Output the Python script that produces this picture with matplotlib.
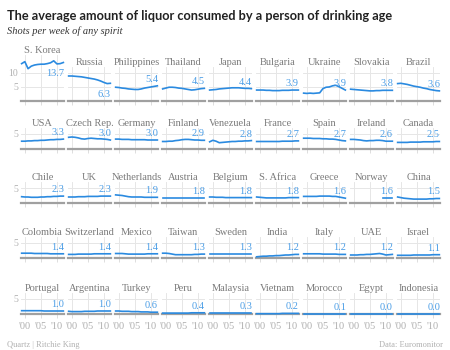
import numpy as np
import matplotlib.pyplot as plt

nan = np.nan
years = np.arange(1999, 2013)

countries = [
    ["S. Korea", "Russia", "Philippines", "Thailand", "Japan", "Bulgaria", "Ukraine", "Slovakia", "Brazil"],
    ["USA", "Czech Rep.", "Germany", "Finland", "Venezuela", "France", "Spain", "Ireland", "Canada"],
    ["Chile", "UK", "Netherlands", "Austria", "Belgium", "S. Africa", "Greece", "Norway", "China"],
    ["Colombia", "Switzerland", "Mexico", "Taiwan", "Sweden", "India", "Italy", "UAE", "Israel"],
    ["Portugal", "Argentina", "Turkey", "Peru", "Malaysia", "Vietnam", "Morocco", "Egypt", "Indonesia"],
]

# shots per week, 1999-2012
shots = {
    "S. Korea": [13.3, 14.0, 11.5, 12.4, 12.8, 13.0, 13.1, 13.1, 13.3, 13.6, 14.3, 13.2, 13.3, 13.7],
    "Russia": [8.9, 8.9, 8.8, 8.7, 8.6, 8.4, 8.2, 8.0, 7.8, 7.5, 7.1, 6.6, 6.2, 6.3],
    "Philippines": [4.9, 4.8, 4.6, 4.5, 4.3, 4.2, 4.1, 4.1, 4.3, 4.6, 4.8, 5.0, 5.2, 5.4],
    "Thailand": [4.3, 4.6, 4.9, 4.9, 4.8, 4.6, 4.5, 4.3, 4.1, 3.9, 4.0, 4.2, 4.4, 4.5],
    "Japan": [3.9, 4.0, 4.1, 4.3, 4.4, 4.5, 4.6, 4.7, 4.7, 4.7, 4.6, 4.5, 4.5, 4.4],
    "Bulgaria": [3.9, 3.9, 3.9, 3.8, 3.8, 3.7, 3.7, 3.7, 3.8, 3.8, 3.8, 3.9, 3.9, 3.9],
    "Ukraine": [2.8, 2.7, 2.8, 2.7, 2.8, 2.9, 4.4, 4.9, 5.0, 5.4, 5.6, 5.1, 4.5, 3.9],
    "Slovakia": [4.2, 4.1, 4.0, 3.9, 3.8, 3.7, 3.6, 3.6, 3.7, 3.7, 3.8, 3.8, 3.8, 3.8],
    "Brazil": [6.2, 6.3, 6.1, 5.9, 5.6, 5.3, 5.1, 4.9, 4.6, 4.4, 4.1, 3.9, 3.7, 3.6],
    "USA": [2.6, 2.6, 2.7, 2.7, 2.8, 2.8, 2.9, 2.9, 3.0, 3.1, 3.1, 3.2, 3.2, 3.3],
    "Czech Rep.": [3.9, 4.0, 3.9, 3.7, 3.4, 3.3, 3.5, 3.6, 3.5, 3.4, 3.4, 3.3, 3.2, 3.0],
    "Germany": [3.3, 3.3, 3.2, 3.2, 3.2, 3.1, 3.1, 3.1, 3.1, 3.1, 3.0, 3.0, 3.0, 3.0],
    "Finland": [2.5, 2.5, 2.6, 2.6, 2.8, 2.9, 3.1, 3.2, 3.2, 3.1, 3.0, 3.0, 2.9, 2.9],
    "Venezuela": [2.4, 2.9, 2.6, 2.1, 2.2, 2.3, 2.4, 2.5, 2.5, 2.6, 2.6, 2.7, 2.7, 2.8],
    "France": [2.5, 2.5, 2.5, 2.5, 2.5, 2.5, 2.5, 2.5, 2.6, 2.6, 2.6, 2.6, 2.7, 2.7],
    "Spain": [3.6, 3.6, 3.6, 3.5, 3.5, 3.5, 3.4, 3.4, 3.3, 3.3, 3.2, 3.0, 2.8, 2.7],
    "Ireland": [3.2, 3.2, 3.1, 3.0, 2.8, 2.7, 2.8, 2.8, 2.9, 2.9, 2.8, 2.6, 2.6, 2.6],
    "Canada": [2.2, 2.2, 2.2, 2.2, 2.3, 2.3, 2.3, 2.3, 2.4, 2.4, 2.4, 2.4, 2.5, 2.5],
    "Chile": [2.1, 2.0, 2.0, 1.9, 1.9, 1.9, 2.0, 2.0, 2.1, 2.1, 2.2, 2.2, 2.3, 2.3],
    "UK": [2.0, 2.0, 2.0, 2.1, 2.1, 2.1, 2.2, 2.2, 2.2, 2.2, 2.3, 2.3, 2.3, 2.3],
    "Netherlands": [2.7, 2.6, 2.5, 2.3, 2.1, 2.0, 2.0, 2.0, 2.0, 1.9, 1.9, 1.9, 1.9, 1.9],
    "Austria": [1.8, 1.8, 1.8, 1.8, 1.8, 1.8, 1.8, 1.8, 1.8, 1.8, 1.8, 1.8, 1.8, 1.8],
    "Belgium": [2.0, 2.0, 1.9, 1.9, 1.9, 1.8, 1.8, 1.8, 1.8, 1.8, 1.8, 1.8, 1.8, 1.8],
    "S. Africa": [2.0, 1.9, 1.8, 1.7, 1.7, 1.7, 1.7, 1.7, 1.7, 1.7, 1.8, 1.8, 1.8, 1.8],
    "Greece": [2.2, 2.2, 2.2, 2.2, 2.2, 2.3, 2.3, 2.3, 2.3, 2.2, 2.2, 2.0, 1.8, 1.6],
    "Norway": [nan, nan, nan, nan, nan, nan, nan, nan, nan, nan, 1.6, 1.6, 1.6, 1.6],
    "China": [2.0, 1.8, 1.6, 1.5, 1.4, 1.3, 1.3, 1.3, 1.3, 1.3, 1.4, 1.4, 1.5, 1.5],
    "Colombia": [1.6, 1.6, 1.6, 1.6, 1.5, 1.5, 1.5, 1.5, 1.5, 1.4, 1.4, 1.4, 1.4, 1.4],
    "Switzerland": [1.2, 1.2, 1.2, 1.3, 1.3, 1.3, 1.3, 1.3, 1.4, 1.4, 1.4, 1.4, 1.4, 1.4],
    "Mexico": [1.5, 1.5, 1.5, 1.4, 1.3, 1.3, 1.3, 1.3, 1.3, 1.3, 1.4, 1.4, 1.4, 1.4],
    "Taiwan": [1.6, 1.6, 1.5, 1.3, 1.1, 1.1, 1.1, 1.1, 1.1, 1.1, 1.2, 1.2, 1.3, 1.3],
    "Sweden": [1.3, 1.3, 1.3, 1.3, 1.3, 1.3, 1.3, 1.3, 1.3, 1.3, 1.3, 1.3, 1.3, 1.3],
    "India": [0.4, 0.5, 0.6, 0.6, 0.7, 0.7, 0.8, 0.8, 0.9, 1.0, 1.0, 1.1, 1.2, 1.2],
    "Italy": [1.4, 1.4, 1.4, 1.4, 1.4, 1.4, 1.3, 1.3, 1.3, 1.3, 1.3, 1.2, 1.2, 1.2],
    "UAE": [1.0, 1.0, 1.0, 1.1, 1.1, 1.2, 1.2, 1.3, 1.4, 1.5, 1.3, 1.0, 1.1, 1.2],
    "Israel": [0.9, 0.9, 0.9, 0.9, 0.9, 1.0, 1.0, 1.0, 1.0, 1.0, 1.0, 1.1, 1.1, 1.1],
    "Portugal": [1.1, 1.1, 1.1, 1.1, 1.1, 1.1, 1.1, 1.0, 1.0, 1.0, 1.0, 1.0, 1.0, 1.0],
    "Argentina": [0.9, 0.8, 0.8, 0.8, 0.8, 0.9, 0.9, 0.9, 0.9, 1.0, 1.0, 1.0, 1.0, 1.0],
    "Turkey": [1.0, 1.0, 0.9, 0.9, 0.9, 0.8, 0.8, 0.8, 0.7, 0.7, 0.7, 0.6, 0.6, 0.6],
    "Peru": [0.3, 0.3, 0.3, 0.3, 0.3, 0.3, 0.3, 0.3, 0.3, 0.4, 0.4, 0.4, 0.4, 0.4],
    "Malaysia": [0.3, 0.3, 0.3, 0.3, 0.3, 0.3, 0.3, 0.3, 0.3, 0.3, 0.3, 0.3, 0.3, 0.3],
    "Vietnam": [0.1, 0.1, 0.1, 0.1, 0.1, 0.1, 0.1, 0.1, 0.2, 0.2, 0.2, 0.2, 0.2, 0.2],
    "Morocco": [0.1, 0.1, 0.1, 0.1, 0.1, 0.1, 0.1, 0.1, 0.1, 0.1, 0.1, 0.1, 0.1, 0.1],
    "Egypt": [0.0, 0.0, 0.0, 0.0, 0.0, 0.0, 0.0, 0.0, 0.0, 0.0, 0.0, 0.0, 0.0, 0.0],
    "Indonesia": [0.0, 0.0, 0.0, 0.0, 0.0, 0.0, 0.0, 0.0, 0.0, 0.0, 0.0, 0.0, 0.0, 0.0],
}
labels_below = ["S. Korea", "Russia"]

W, H = 450, 350
BLUE = "#2a8ae0"
LBLUE = "#4a9de6"
GREY = "#7a7a7a"
LGREY = "#b0b0b0"
serif = "Liberation Serif"

fig = plt.figure(figsize=(W / 100, H / 100), dpi=100)
fig.patch.set_facecolor("white")

# pixel layout
x0, pitch, pw = 21, 47, 43
row_base = [101, 149, 203, 258, 314]   # y of zero line
row_top = [67, 128, 182, 237, 293]     # y of panel top
row_ymax = [12.1, 7.0, 7.0, 7.0, 7.0]


def add_panel(x, ytop, ybase):
    return fig.add_axes([x / W, 1 - ybase / H, pw / W, (ybase - ytop) / H])


for r, row in enumerate(countries):
    ppu = (row_base[r] - row_top[r]) / row_ymax[r]
    for c, name in enumerate(row):
        x = x0 + c * pitch
        ytop = row_top[r]
        ymax = row_ymax[r]
        if name == "S. Korea":
            ytop = 55
            ymax = (row_base[r] - ytop) / ppu
        ax = add_panel(x, ytop, row_base[r])
        ax.set_xlim(1998.8, 2012.2)
        ax.set_ylim(0, ymax)
        for s in ax.spines.values():
            s.set_visible(False)
        ax.set_xticks([2000, 2005, 2010])
        ticks = [5, 10] if r == 0 else [5]
        ax.set_yticks(ticks)
        ax.grid(True, color="#e6e6e6", lw=0.7)
        ax.tick_params(length=0, colors=LGREY, labelsize=7, pad=2)
        ax.tick_params(axis="x", length=3, color="#dddddd", width=0.7, pad=2.5,
                       labelsize=7.5)
        if c == 0:
            ax.set_yticklabels([str(t) for t in ticks], family=serif)
        else:
            ax.set_yticklabels([])
        if r == len(countries) - 1:
            ax.set_xticklabels(["'00", "'05", "'10"], family=serif)
        else:
            ax.set_xticklabels([])
        ax.axhline(0, color="#a0a0a0", lw=1.6, clip_on=False)
        vals = shots[name]
        ax.plot(years, vals, color=BLUE, lw=1.2, clip_on=False)
        last = vals[-1]
        dy = -11 if name in labels_below else 1.5
        ax.annotate(f"{last:.1f}", xy=(2012.2, last), xytext=(0, dy),
                    textcoords="offset points", ha="right", va="bottom",
                    color=LBLUE, fontsize=7.5, family=serif)
        ax.text(0.5, 1.0, name, transform=ax.transAxes, ha="center",
                va="bottom", color=GREY, fontsize=7.5, family=serif)

fig.text(7 / W, 1 - 20 / H, "The average amount of liquor consumed by a person of drinking age",
         fontsize=9.2, fontweight="bold", family="Lato", color="#222222")
fig.text(7 / W, 1 - 34 / H, "Shots per week of any spirit", fontsize=7.5,
         style="italic", family=serif, color="#333333")
fig.text(7 / W, 1 - 347 / H, "Quartz | Ritchie King", fontsize=6,
         family=serif, color=LGREY)
fig.text(443 / W, 1 - 347 / H, "Data: Euromonitor", fontsize=6,
         family=serif, color=LGREY, ha="right")

fig.savefig("out.png", dpi=100)
